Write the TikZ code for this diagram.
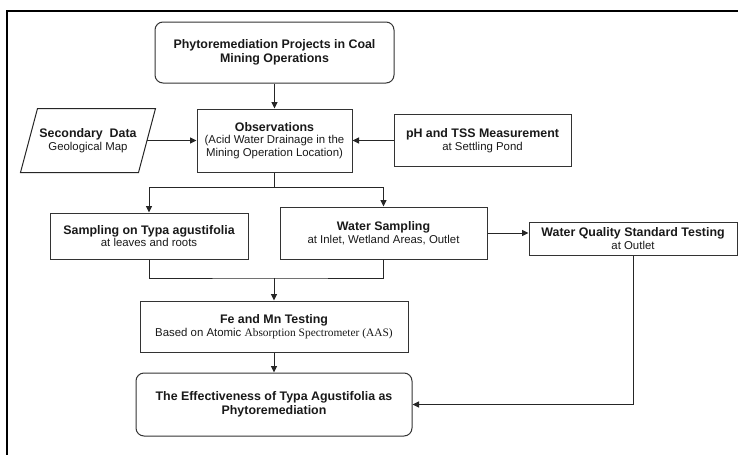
\documentclass[tikz,border=0pt]{standalone}
\usepackage{fontspec}
\setmainfont{Liberation Sans}
\newfontfamily\timesfont{Liberation Serif}
\usetikzlibrary{arrows.meta}

\newcommand{\hd}[1]{{\fontsize{12.4}{14}\selectfont\bfseries #1}}

\begin{document}
\begin{tikzpicture}
  [x=1pt,y=-1pt,>={Triangle[length=6.5pt,width=6pt]},
   every node/.style={draw=black!80,line width=1pt,align=center,inner sep=2pt,
     text=black!90,font=\fontsize{11.4}{12.6}\selectfont},
   rbox/.style={rounded corners=8pt,font=\fontsize{12.4}{14}\selectfont\bfseries},
   link/.style={line width=1pt,draw=black!85}]

  \useasboundingbox (0,0) rectangle (738,455);
  \draw[line width=1.8pt] (738,11) -- (7,11) -- (7,455);

  %%%%%%%%%%%%%%%%%%%%%% ROW 1 %%%%%%%%%%%%%%%%%%%%%%
  \node[rbox,minimum width=239pt,minimum height=61pt] (proj) at (274.5,52.5)
    {Phytoremediation Projects in Coal\\Mining Operations};

  \node[minimum width=155pt,minimum height=63pt] (obs) at (274.5,140.5)
    {\hd{Observations}\\(Acid Water Drainage in the\\Mining Operation Location)};
  \node[draw=none,minimum width=117pt,minimum height=63pt] (sec) at (88,140.5)
    {\hd{Secondary\ \ Data}\\Geological Map};
  \node[minimum width=177pt,minimum height=52pt] (ph) at (482.5,140.5)
    {\hd{pH and TSS Measurement}\\at Settling Pond};

  \draw[link] ([xshift=8.5pt]sec.north west) -- ([xshift=8.5pt]sec.north east)
    -- ([xshift=-8.5pt]sec.south east) -- ([xshift=-8.5pt]sec.south west) -- cycle;

  %%%%%%%%%%%%%%%%%%%%%% ROW 2 %%%%%%%%%%%%%%%%%%%%%%
  \node[minimum width=198pt,minimum height=46pt] (samp) at (149,236)
    {\hd{Sampling on Typa agustifolia}\\at leaves and roots};
  \node[minimum width=207pt,minimum height=52pt] (wsamp) at (383.5,233)
    {\hd{Water Sampling}\\at Inlet, Wetland Areas, Outlet};
  \node[minimum width=208pt,minimum height=33pt] (wq) at (633,238.5)
    {\hd{Water Quality Standard Testing}\\at Outlet};

  %%%%%%%%%%%%%%%%%%%%%% ROW 3 %%%%%%%%%%%%%%%%%%%%%%
  \node[minimum width=268pt,minimum height=51pt] (fe) at (274,326.5)
    {\hd{Fe and Mn Testing}\\Based on Atomic {\timesfont Absorption Spectrometer (AAS)}};
  \node[rbox,minimum width=276pt,minimum height=63pt] (eff) at (274,404.5)
    {The Effectiveness of Typa Agustifolia as\\Phytoremediation};

  \coordinate (split) at (274.5,187);
  \coordinate (join) at (274,278);

  \foreach \from/\to in {proj/obs,sec/obs,ph/obs,join/fe,fe/eff}
    \draw[link,->] (\from) -- (\to);

  \draw[link] (obs) -- (split);
  \foreach \to in {samp,wsamp}
    \draw[link,->] (split) -| (\to.north);

  \draw[link] (samp.south) |- (join) -| (wsamp.south);
  \draw[link,->] (wsamp.east) -- (wsamp.east -| wq.west);
  \draw[link,->] (wq.south) |- (eff.east);

\end{tikzpicture}
\end{document}
